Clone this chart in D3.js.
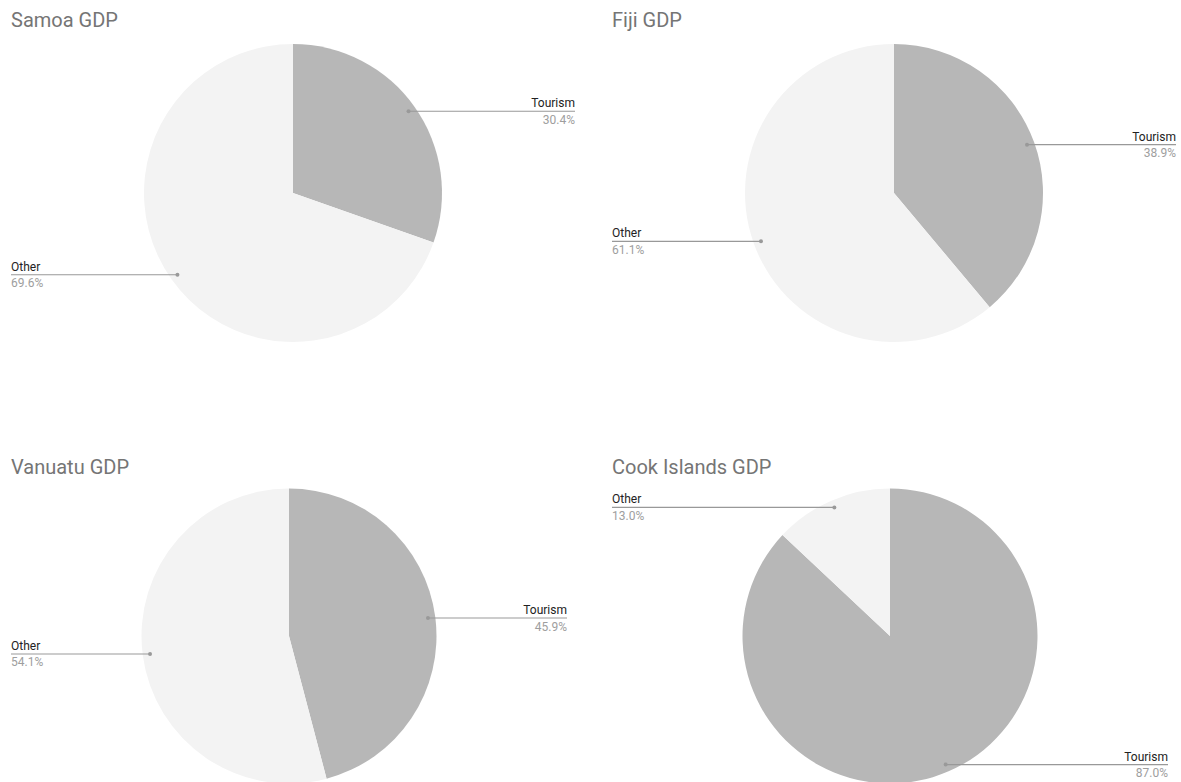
<!DOCTYPE html>
<html>
<head>
<meta charset="utf-8">
<script src="https://cdn.jsdelivr.net/npm/d3@7"></script>
<style>
  body { margin: 0; background: #fff; }
  svg { display: block; font-family: Roboto, Arial, sans-serif; }
  .title { fill: #757575; font-size: 20px; }
  .name { fill: #222; font-size: 12px; }
  .pct { fill: #9e9e9e; font-size: 12px; }
  .leader { stroke: #999; stroke-width: 1.2; }
</style>
</head>
<body>
<svg id="chart"></svg>
<script>
// data
const countries = ["Samoa", "Fiji", "Vanuatu", "Cook Islands"];
const categories = ["Tourism", "Other"];
const tourismShare = [30.4, 38.9, 45.9, 87.0];
const otherShare = [69.6, 61.1, 54.1, 13.0];

const colors = { Tourism: "#b7b7b7", Other: "#f3f3f3" };

// where each small pie sits on the page
const cells = [
  { x: 0,   y: 0,   cx: 293, cy: 193, r: 149, right: 575 },
  { x: 601, y: 0,   cx: 293, cy: 193, r: 149, right: 575 },
  { x: 0,   y: 447, cx: 289, cy: 189, r: 147.5, right: 567 },
  { x: 601, y: 447, cx: 289, cy: 189, r: 147.5, right: 567 }
];

const width = 1181, height = 782;
const svg = d3.select("#chart").attr("width", width).attr("height", height);

const pie = d3.pie().sort(null).value(d => d.value);

countries.forEach((country, i) => {
  const c = cells[i];
  const data = categories.map((k, j) => ({
    key: k,
    value: j === 0 ? tourismShare[i] : otherShare[i]
  }));

  const g = svg.append("g").attr("transform", "translate(" + c.x + "," + c.y + ")");

  g.append("text")
    .attr("class", "title")
    .attr("x", 11)
    .attr("y", 27)
    .text(country + " GDP");

  const arc = d3.arc().innerRadius(0).outerRadius(c.r);
  const dotArc = d3.arc().innerRadius(c.r * 0.95).outerRadius(c.r * 0.95);

  const pg = g.append("g").attr("transform", "translate(" + c.cx + "," + c.cy + ")");
  const arcs = pie(data);

  pg.selectAll("path")
    .data(arcs)
    .join("path")
    .attr("d", arc)
    .attr("fill", d => colors[d.data.key]);

  // leader lines + labels
  arcs.forEach(a => {
    const [px, py] = dotArc.centroid(a);
    const mid = (a.startAngle + a.endAngle) / 2;
    const onRight = Math.sin(mid) > 0;
    const lx = onRight ? c.right - c.cx : 11 - c.cx;
    const anchor = onRight ? "end" : "start";

    pg.append("line")
      .attr("class", "leader")
      .attr("x1", px).attr("y1", py)
      .attr("x2", lx).attr("y2", py);
    pg.append("circle")
      .attr("cx", px).attr("cy", py).attr("r", 2)
      .attr("fill", "#999");
    pg.append("text")
      .attr("class", "name")
      .attr("x", lx).attr("y", py - 4)
      .attr("text-anchor", anchor)
      .text(a.data.key);
    pg.append("text")
      .attr("class", "pct")
      .attr("x", lx).attr("y", py + 12.5)
      .attr("text-anchor", anchor)
      .text(a.data.value.toFixed(1) + "%");
  });
});
</script>
</body>
</html>
